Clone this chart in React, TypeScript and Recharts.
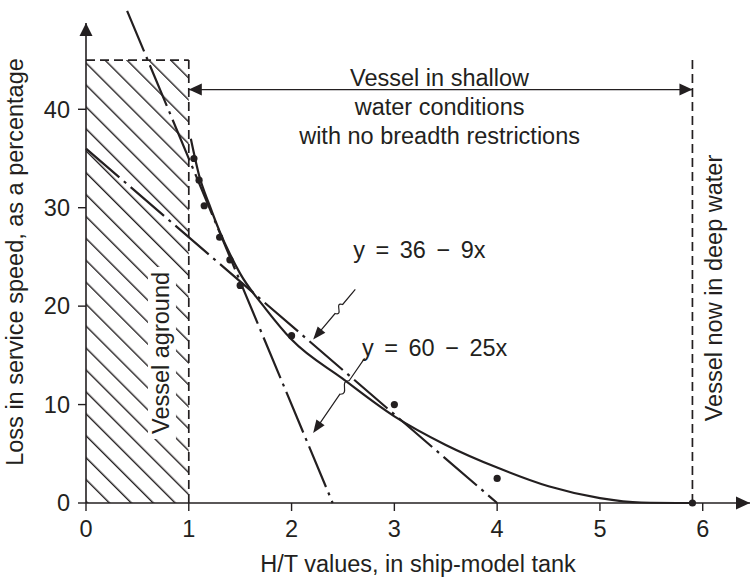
import {
  ComposedChart,
  XAxis,
  YAxis,
  Line,
  Scatter,
  ReferenceLine,
  ReferenceArea,
  ReferenceDot,
} from "recharts";

const INK = "#231f20";
const FONT = "'Liberation Sans', Arial, Helvetica, sans-serif";
const FS = 23.5;

// tank test results: H/T and % loss of service speed
const tankHT = [1.05, 1.1, 1.15, 1.3, 1.4, 1.5, 2, 3, 4, 5.9];
const tankLoss = [35, 32.8, 30.2, 27, 24.7, 22.1, 17, 10, 2.5, 0];

// faired curve through the results
const curveHT = [1.02, 1.1, 1.2, 1.3, 1.4, 1.5, 1.75, 2, 2.5, 3, 3.5, 4, 4.5, 5, 5.4, 5.9];
const curveLoss = [37, 33.3, 30.3, 27.6, 25.3, 23.3, 19.7, 16.6, 12.6, 8.8, 5.9, 3.6, 1.7, 0.5, 0.05, 0];

// straight line fits
const fitAHT = [0, 4];
const fitALoss = [36, 0]; // y = 36 - 9x
const fitBHT = [0.4, 2.4];
const fitBLoss = [50, 0]; // y = 60 - 25x

const xTicks = [0, 1, 2, 3, 4, 5, 6];
const yTicks = [0, 10, 20, 30, 40];

const shallowText = ["Vessel in shallow", "water conditions", "with no breadth restrictions"];

const toRows = (xs: number[], ys: number[]) => xs.map((x, i) => ({ x, loss: ys[i] }));

const curveData = toRows(curveHT, curveLoss);
const tankData = toRows(tankHT, tankLoss);
const fitAData = toRows(fitAHT, fitALoss);
const fitBData = toRows(fitBHT, fitBLoss);

function head(tx: number, ty: number, fx: number, fy: number, len: number, half: number) {
  const a = Math.atan2(ty - fy, tx - fx);
  const bx = tx - len * Math.cos(a);
  const by = ty - len * Math.sin(a);
  const px = -Math.sin(a) * half;
  const py = Math.cos(a) * half;
  return (
    <polygon
      points={`${tx},${ty} ${bx + px},${by + py} ${bx - px},${by - py}`}
      fill={INK}
    />
  );
}

// straight line with arrow heads
const arrowLine =
  (o: { start?: boolean; end?: boolean; len: number; half: number; w: number }) =>
  (p: any) => {
    const { x1, y1, x2, y2 } = p;
    return (
      <g>
        <line x1={x1} y1={y1} x2={x2} y2={y2} stroke={INK} strokeWidth={o.w} />
        {o.end && head(x2, y2, x1, y1, o.len, o.half)}
        {o.start && head(x1, y1, x2, y2, o.len, o.half)}
      </g>
    );
  };

// leader with a little squiggle, arrow at the end
const leader = (p: any) => {
  const { x1, y1, x2, y2 } = p;
  const dx = x2 - x1;
  const dy = y2 - y1;
  const L = Math.hypot(dx, dy);
  const ux = dx / L;
  const uy = dy / L;
  const nx = -uy;
  const ny = ux;
  const at = (t: number, n = 0) => [x1 + dx * t + nx * n, y1 + dy * t + ny * n];
  const a = at(0.3);
  const c1 = at(0.36, 9);
  const c2 = at(0.42, -9);
  const b = at(0.48);
  const e = [x2 - ux * 10, y2 - uy * 10];
  const d = `M${x1},${y1} L${a[0]},${a[1]} C${c1[0]},${c1[1]} ${c2[0]},${c2[1]} ${b[0]},${b[1]} L${e[0]},${e[1]}`;
  return (
    <g>
      <path d={d} fill="none" stroke={INK} strokeWidth={1.2} />
      {head(x2, y2, x1, y1, 13, 5)}
    </g>
  );
};

const textStyle = { fontFamily: FONT, fontSize: FS, fill: INK };

const vertText =
  (label: string, pad?: { w: number }) =>
  (p: any) => (
    <g transform={`translate(${p.cx},${p.cy}) rotate(-90)`}>
      {pad && <rect x={-pad.w / 2} y={-21} width={pad.w} height={28} fill="#fff" />}
      <text x={0} y={0} textAnchor="middle" style={textStyle}>
        {label}
      </text>
    </g>
  );

const eqText = (label: string) => (p: any) => (
  <text x={p.cx} y={p.cy} textAnchor="start" style={{ ...textStyle, wordSpacing: 4 }}>
    {label}
  </text>
);

const blockText = (p: any) => (
  <g>
    {shallowText.map((t, i) => (
      <text key={t} x={p.cx} y={p.cy - 4 + i * 29} textAnchor="middle" style={textStyle}>
        {t}
      </text>
    ))}
  </g>
);

export default function App() {
  return (
    <div style={{ position: "absolute", left: 0, top: 0, width: 750, height: 578, background: "#fff" }}>
      <ComposedChart width={750} height={578} margin={{ top: 1, right: 0, bottom: 0, left: 0 }}>
        <defs>
          <pattern
            id="hatch"
            width={15.5}
            height={15.5}
            patternUnits="userSpaceOnUse"
            patternTransform="rotate(-45)"
          >
            <line x1={0.7} y1={0} x2={0.7} y2={15.5} stroke={INK} strokeWidth={1.4} />
          </pattern>
        </defs>
        <XAxis
          type="number"
          dataKey="x"
          domain={[0, 6.46]}
          ticks={xTicks}
          axisLine={false}
          tickSize={8}
          tickMargin={9}
          tickLine={{ stroke: INK, strokeWidth: 1.4 }}
          tick={{ fill: INK, fontSize: FS, fontFamily: FONT }}
          height={75}
          label={{
            content: (p: any) => (
              <text
                x={p.viewBox.x + p.viewBox.width / 2}
                y={p.viewBox.y + 69}
                textAnchor="middle"
                style={textStyle}
              >
                H/T values, in ship-model tank
              </text>
            ),
          }}
        />
        <YAxis
          type="number"
          domain={[0, 51]}
          ticks={yTicks}
          axisLine={false}
          tickSize={8}
          tickMargin={8}
          tickLine={{ stroke: INK, strokeWidth: 1.4 }}
          tick={{ fill: INK, fontSize: FS, fontFamily: FONT }}
          width={86}
          label={{
            content: (p: any) => (
              <text
                transform={`translate(${p.viewBox.x + 23},${p.viewBox.y + p.viewBox.height / 2 + 10}) rotate(-90)`}
                textAnchor="middle"
                style={textStyle}
              >
                Loss in service speed, as a percentage
              </text>
            ),
          }}
        />

        <ReferenceArea x1={0} x2={1} y1={0} y2={45} fill="url(#hatch)" fillOpacity={1} stroke="none" />
        <ReferenceLine
          segment={[{ x: 0, y: 45 }, { x: 1, y: 45 }]}
          stroke={INK}
          strokeWidth={1.7}
          strokeDasharray="9 5"
        />
        <ReferenceLine
          segment={[{ x: 1, y: 45 }, { x: 1, y: 0 }]}
          stroke={INK}
          strokeWidth={1.7}
          strokeDasharray="9 5"
        />
        <ReferenceLine
          segment={[{ x: 5.9, y: 45 }, { x: 5.9, y: 0 }]}
          stroke={INK}
          strokeWidth={1.7}
          strokeDasharray="9 5"
        />
        <ReferenceDot x={0.807} y={15.24} shape={vertText("Vessel aground", { w: 172 })} />
        <ReferenceDot x={6.19} y={21.84} shape={vertText("Vessel now in deep water")} />

        <ReferenceLine
          segment={[{ x: 1, y: 42 }, { x: 5.9, y: 42 }]}
          shape={arrowLine({ start: true, end: true, len: 13, half: 6, w: 1.3 })}
        />
        <ReferenceDot x={3.44} y={42} shape={blockText} />

        {/* axes with arrow heads */}
        <ReferenceLine
          segment={[{ x: 0, y: 0 }, { x: 0, y: 48.77 }]}
          shape={arrowLine({ end: true, len: 13, half: 6.5, w: 1.6 })}
        />
        <ReferenceLine
          segment={[{ x: 0, y: 0 }, { x: 6.46, y: 0 }]}
          shape={arrowLine({ end: true, len: 14, half: 6.5, w: 1.6 })}
        />

        <Line
          data={fitAData}
          dataKey="loss"
          type="linear"
          stroke={INK}
          strokeWidth={2.2}
          strokeDasharray="44 6 3 6"
          dot={false}
          activeDot={false}
          isAnimationActive={false}
        />
        <Line
          data={fitBData}
          dataKey="loss"
          type="linear"
          stroke={INK}
          strokeWidth={2.2}
          strokeDasharray="44 6 3 6"
          dot={false}
          activeDot={false}
          isAnimationActive={false}
        />
        <Line
          data={curveData}
          dataKey="loss"
          type="monotone"
          stroke={INK}
          strokeWidth={2.2}
          dot={false}
          activeDot={false}
          isAnimationActive={false}
        />
        <Scatter
          data={tankData}
          dataKey="loss"
          isAnimationActive={false}
          shape={(p: any) => <circle cx={p.cx} cy={p.cy} r={3.6} fill={INK} />}
        />

        {/* equation call-outs */}
        <ReferenceDot x={2.6} y={24.86} shape={eqText("y = 36 − 9x")} />
        <ReferenceLine segment={[{ x: 2.62, y: 21.7 }, { x: 2.21, y: 16.6 }]} shape={leader} />
        <ReferenceDot x={2.685} y={14.93} shape={eqText("y = 60 − 25x")} />
        <ReferenceLine segment={[{ x: 2.71, y: 14.7 }, { x: 2.21, y: 7.1 }]} shape={leader} />
      </ComposedChart>
    </div>
  );
}
